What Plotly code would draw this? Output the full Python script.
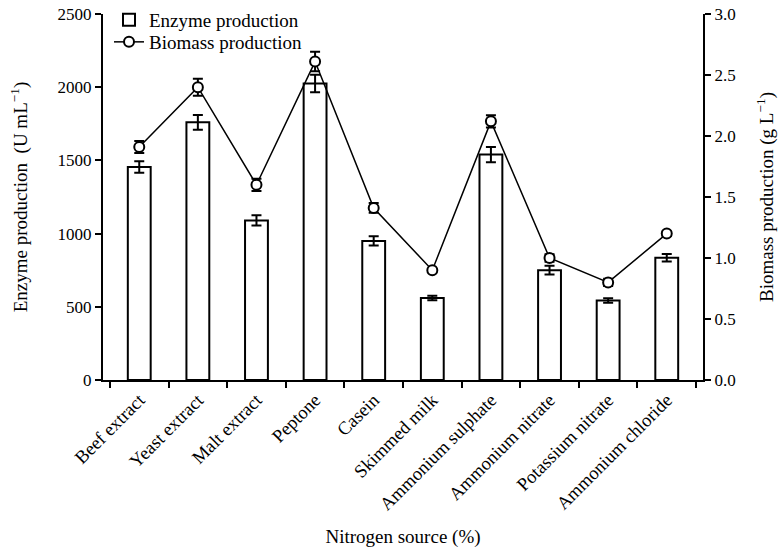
import plotly.graph_objects as go

categories = ["Beef extract", "Yeast extract", "Malt extract", "Peptone", "Casein",
              "Skimmed milk", "Ammonium sulphate", "Ammonium nitrate",
              "Potassium nitrate", "Ammonium chloride"]
enzyme = [1455, 1760, 1090, 2025, 950, 560, 1540, 750, 543, 835]
enzyme_err = [40, 50, 35, 60, 32, 15, 52, 30, 15, 25]
biomass = [1.91, 2.40, 1.60, 2.61, 1.41, 0.90, 2.12, 1.00, 0.80, 1.20]
biomass_err = [0.05, 0.07, 0.05, 0.08, 0.04, 0.0, 0.05, 0.03, 0.03, 0.02]

FONT = "Liberation Serif, Times New Roman, serif"

fig = go.Figure()
fig.add_trace(go.Bar(
    x=categories, y=enzyme, name="Enzyme production", legend="legend",
    marker=dict(color="white", line=dict(color="black", width=2)),
    error_y=dict(type="data", array=enzyme_err, color="black", thickness=2, width=5),
    width=0.39,
))
fig.add_trace(go.Scatter(
    x=categories, y=biomass, name="Biomass production", yaxis="y2", legend="legend2",
    mode="lines+markers",
    line=dict(color="black", width=1.5),
    marker=dict(symbol="circle", size=10, color="white", line=dict(color="black", width=2)),
    error_y=dict(type="data", array=biomass_err, color="black", thickness=2, width=5),
))

legend_common = dict(xanchor="left", yanchor="middle", bgcolor="rgba(0,0,0,0)",
                     font=dict(size=19), itemwidth=30)

fig.update_layout(
    width=782, height=550,
    margin=dict(l=103, r=79, t=14, b=170, autoexpand=False),
    paper_bgcolor="white", plot_bgcolor="white",
    font=dict(family=FONT, size=17, color="black"),
    showlegend=True,
    legend=dict(x=0.01, y=0.9836, **legend_common),
    legend2=dict(x=0.01, y=0.9235, **legend_common),
    xaxis=dict(
        type="category", tickson="boundaries", ticks="outside", ticklen=6,
        tickwidth=2, tickcolor="black", showline=True, linecolor="black", linewidth=2,
        tickangle=-45, tickfont=dict(size=18.5), automargin=False,
        title=dict(text="Nitrogen source (%)", font=dict(size=19), standoff=16),
        showgrid=False, zeroline=False,
    ),
    yaxis=dict(
        range=[0, 2500], tickvals=[0, 500, 1000, 1500, 2000, 2500],
        ticks="outside", ticklen=6, tickwidth=2, tickcolor="black",
        showline=True, linecolor="black", linewidth=2, showgrid=False, zeroline=False,
        tickfont=dict(size=17), automargin=False,
        title=dict(text="Enzyme production  (U mL<sup>−1</sup>)", font=dict(size=19), standoff=25),
    ),
    yaxis2=dict(
        range=[0, 3.0], tickvals=[0, 0.5, 1.0, 1.5, 2.0, 2.5, 3.0], tickformat=".1f",
        overlaying="y", side="right",
        ticks="outside", ticklen=6, tickwidth=2, tickcolor="black",
        showline=True, linecolor="black", linewidth=2, showgrid=False, zeroline=False,
        tickfont=dict(size=17), automargin=False,
        title=dict(text="Biomass production (g L<sup>−1</sup>)", font=dict(size=19), standoff=25),
    ),
)

fig.write_html("out.html", config={"displayModeBar": False},
               post_script="document.body.style.margin='0';")
